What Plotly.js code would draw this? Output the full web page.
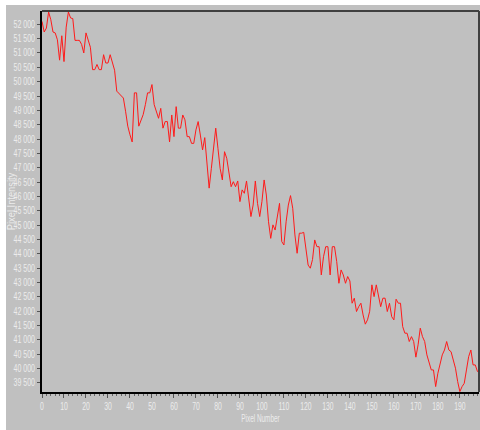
<!DOCTYPE html>
<html>
<head>
<meta charset="utf-8">
<script src="https://cdn.plot.ly/plotly-3.0.1.min.js"></script>
<style>
  html, body { margin: 0; padding: 0; background: #ffffff; }
  #chart { position: absolute; left: 6px; top: 5px; width: 474px; height: 425px; }
</style>
</head>
<body>
<div id="chart"></div>
<script>
const intensity = [
  52100, 51730, 51870, 52430, 52160, 51730, 51700, 51460, 50750, 51600,
  50700, 51900, 52430, 52220, 52200, 51440, 51440, 51440, 51300, 51000,
  51700, 51410, 51200, 50420, 50420, 50600, 50420, 50420, 50940, 50650,
  50650, 50940, 50700, 50400, 49670, 49600, 49500, 49430, 48970, 48450,
  48150, 47900, 49610, 49610, 48450, 48650, 48850, 49200, 49610, 49610,
  49900, 49200, 48955, 48725, 49070, 48380, 48610, 48610, 47900, 48840,
  48085, 49130, 48380, 48380, 48840, 48670, 48085, 48085, 47850, 47850,
  48320, 48610, 48140, 47620, 48050, 47210, 46290, 46980, 47680, 48380,
  47680, 46980, 46575, 47560, 47330, 46750, 46340, 46515, 46340, 46540,
  45820, 46230, 46110, 46540, 45820, 45300, 45700, 46540, 45760, 45300,
  45820, 46575, 46050, 45120, 44540, 45010, 44830, 45240, 45760, 44430,
  44310, 45120, 45700, 46030, 45590, 44660, 44020, 44720, 44720, 44750,
  44080, 43610, 43500, 43800, 44485, 44250, 44250, 43265, 43900, 44250,
  44250, 43265, 44250, 44250, 43730, 42975, 43440, 43265, 42975, 43210,
  43055, 42280, 42455, 41990, 42160, 42280, 41870, 41550, 41700, 42000,
  42920, 42510, 42920, 42510, 42160, 42455, 42455, 41990, 42280, 41810,
  41700, 42420, 42280, 42280, 41465, 41235, 41235, 40945, 41115, 40945,
  40400, 40830, 41410, 41115, 40945, 40480, 40190, 39955, 39955, 39375,
  39840, 40190, 40480, 40650, 40945, 40650, 40590, 40300, 40015, 39550,
  39200, 39375, 39490, 39955, 40420, 40650, 40130, 40130, 39900, 39870
];
const pixelNumber = intensity.map((_, i) => i);

const xTickVals = [0, 10, 20, 30, 40, 50, 60, 70, 80, 90, 100, 110, 120, 130, 140, 150, 160, 170, 180, 190];
const yTickVals = [39500, 40000, 40500, 41000, 41500, 42000, 42500, 43000, 43500, 44000, 44500,
                   45000, 45500, 46000, 46500, 47000, 47500, 48000, 48500, 49000, 49500,
                   50000, 50500, 51000, 51500, 52000];

const labelColor = '#ececec';
const fontFam = '"Liberation Sans", Arial, sans-serif';

const trace = {
  x: pixelNumber,
  y: intensity,
  type: 'scatter',
  mode: 'lines',
  line: { color: '#ff1a1a', width: 1 },
  hoverinfo: 'x+y'
};

const layout = {
  width: 474,
  height: 425,
  margin: { l: 36, r: 1, t: 6, b: 38, autoexpand: false },
  paper_bgcolor: '#c0c0c0',
  plot_bgcolor: '#c0c0c0',
  showlegend: false,
  separators: '. ',
  font: { family: fontFam, size: 10, color: labelColor },
  xaxis: {
    range: [0, 198.7],
    tickmode: 'array',
    tickvals: xTickVals,
    ticks: 'outside',
    ticklen: 4,
    tickcolor: '#555555',
    tickwidth: 1,
    minor: { dtick: 2, ticklen: 2, tickcolor: '#666666', ticks: 'outside', showgrid: false },
    showgrid: false,
    zeroline: false,
    showline: true,
    linecolor: '#000000',
    linewidth: 2,
    tickfont: { family: fontFam, size: 10, color: labelColor },
    title: { text: 'Pixel Number', font: { family: fontFam, size: 10, color: labelColor }, standoff: 4 }
  },
  yaxis: {
    range: [39186, 52463],
    tickmode: 'array',
    tickvals: yTickVals,
    tickformat: ',d',
    ticks: 'outside',
    ticklen: 3,
    tickcolor: '#555555',
    tickwidth: 1,
    showgrid: false,
    zeroline: false,
    showline: true,
    linecolor: '#000000',
    linewidth: 2,
    tickfont: { family: fontFam, size: 10, color: labelColor },
    title: { text: 'Pixel Intensity', font: { family: fontFam, size: 10, color: labelColor }, standoff: 4 }
  },
  shapes: [
    { type: 'line', xref: 'paper', yref: 'paper', x0: 0, x1: 1, y0: 1, y1: 1,
      line: { color: '#404040', width: 2 } },
    { type: 'line', xref: 'paper', yref: 'paper', x0: 1, x1: 1, y0: 0, y1: 1,
      line: { color: '#404040', width: 2 } }
  ]
};

function squeeze(selector, factor) {
  document.querySelectorAll(selector).forEach(t => {
    const w = t.getComputedTextLength();
    if (w > 0) {
      t.setAttribute('textLength', (w * factor).toFixed(1));
      t.setAttribute('lengthAdjust', 'spacingAndGlyphs');
    }
  });
}

Plotly.newPlot('chart', [trace], layout, { displayModeBar: false, staticPlot: true }).then(() => {
  squeeze('#chart .xtick text', 0.68);
  squeeze('#chart .ytick text', 0.70);
  squeeze('#chart .g-xtitle text', 0.64);
  squeeze('#chart .g-ytitle text', 0.93);
});
</script>
</body>
</html>
